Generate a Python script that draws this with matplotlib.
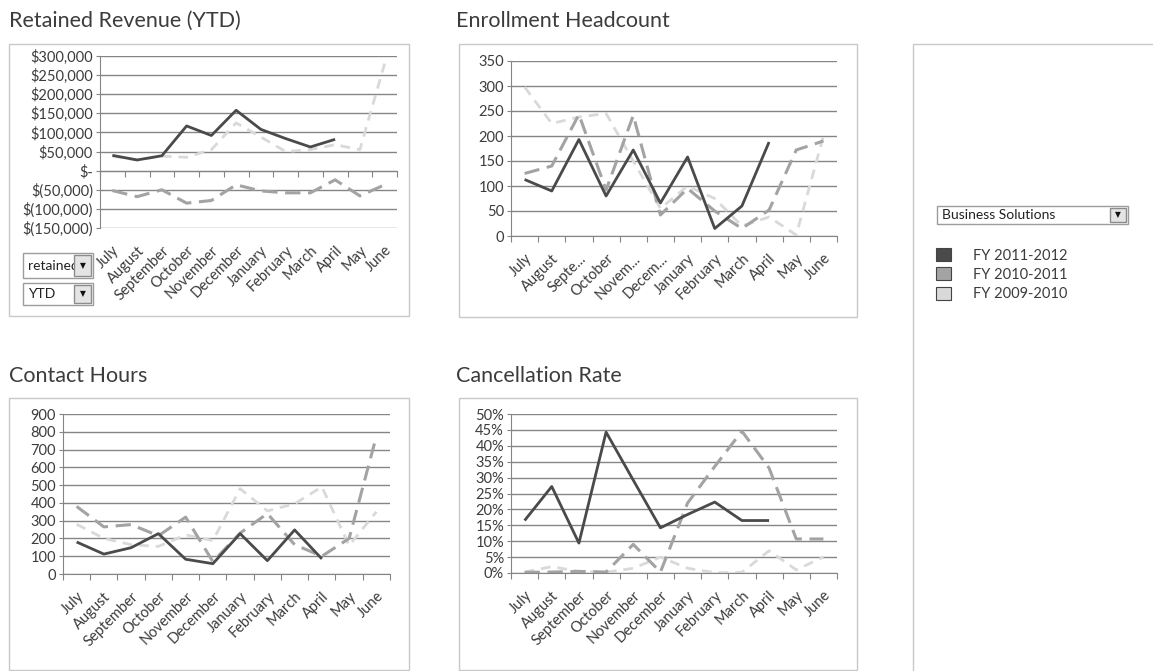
import numpy as np
import matplotlib
matplotlib.use("Agg")
import matplotlib.pyplot as plt
from matplotlib.patches import Rectangle, Patch
from matplotlib.ticker import FuncFormatter

W, H = 1153, 671
nan = np.nan

months = ['July', 'August', 'September', 'October', 'November', 'December',
          'January', 'February', 'March', 'April', 'May', 'June']
enroll_months = ['July', 'August', 'Septe...', 'October', 'Novem...', 'Decem...',
                 'January', 'February', 'March', 'April', 'May', 'June']
years = ['FY 2011-2012', 'FY 2010-2011', 'FY 2009-2010']

# retained revenue, dollars
revenue_1112 = [40000, 28000, 39000, 117000, 92000, 158000, 108000, 84000, 62000, 82000, nan, nan]
revenue_1011 = [-52000, -68000, -50000, -85000, -78000, -37000, -53000, -58000, -58000, -24000, -66000, -37000]
revenue_0910 = [38000, 28000, 38000, 35000, 55000, 125000, 88000, 50000, 55000, 68000, 55000, 280000]

# enrollment headcount
enroll_1112 = [113, 90, 193, 80, 172, 66, 158, 15, 60, 188, nan, nan]
enroll_1011 = [125, 140, 243, 92, 241, 42, 95, 50, 15, 52, 172, 190]
enroll_0910 = [298, 225, 238, 245, 150, 55, 100, 75, 20, 38, 2, 200]

# contact hours
hours_1112 = [180, 112, 148, 227, 83, 58, 227, 75, 248, 85, nan, nan]
hours_1011 = [380, 265, 278, 215, 320, 70, 230, 340, 165, 100, 200, 775]
hours_0910 = [280, 200, 165, 155, 220, 188, 480, 355, 395, 490, 160, 350]

# cancellation rate, percent
cancel_1112 = [16.5, 27.2, 9.4, 44.3, 29.2, 14.2, 18.4, 22.3, 16.5, 16.5, nan, nan]
cancel_1011 = [0.2, 0.3, 0.5, 0.3, 9.0, 0.3, 22.0, 33.5, 44.6, 33.0, 10.7, 10.7]
cancel_0910 = [0.3, 2.0, 0.5, 0.2, 1.5, 5.0, 1.5, 0.1, 0.2, 7.0, 1.0, 5.0]

plt.rcParams['font.family'] = ['Lato', 'DejaVu Sans']

TEXT = '#3c3c3c'
GRID = '#858585'
FRAME = '#c8c8c8'
colors = ['#4a4a4a', '#a3a3a3', '#d9d9d9']
styles = [dict(color=colors[0], lw=2.0, ls='-'),
          dict(color=colors[1], lw=2.2, ls=(0, (5, 2.5))),
          dict(color=colors[2], lw=2.0, ls=(0, (3.5, 2.5)))]

fig = plt.figure(figsize=(W / 100, H / 100), dpi=100)


def px_rect(x0, y0, x1, y1):
    return [x0 / W, 1 - y1 / H, (x1 - x0) / W, (y1 - y0) / H]


def frame(x0, y0, x1, y1, ec=FRAME, fc='none', z=0):
    l, b, w, h = px_rect(x0, y0, x1, y1)
    fig.add_artist(Rectangle((l, b), w, h, transform=fig.transFigure,
                             fc=fc, ec=ec, lw=1, zorder=z))


def dropdown(x0, y0, x1, y1, text, fs, bw):
    frame(x0, y0, x1, y1, ec='#9c9c9c', fc='white', z=2)
    fig.text((x0 + 5) / W, 1 - (y0 + y1) / 2 / H, text, fontsize=fs,
             color='#222222', va='center', zorder=3)
    frame(x1 - bw - 2, y0 + 2, x1 - 2, y1 - 2, ec='#8c8c8c', fc='#e4e4e4', z=4)
    fig.text((x1 - 2 - bw / 2) / W, 1 - (y0 + y1) / 2 / H, '▼', fontsize=5.5,
             family='DejaVu Sans', color='#111111', ha='center', va='center', zorder=5)


def money(v, pos):
    if v == 0:
        return '$-'
    if v < 0:
        return f'$({-v:,.0f})'
    return f'${v:,.0f}'


def line_chart(box, series, ymin, ymax, step, fmt, labels):
    ax = fig.add_axes(px_rect(*box))
    x = np.arange(len(labels))
    # oldest year first so the current year sits on top
    for vals, st in reversed(list(zip(series, styles))):
        ax.plot(x, vals, solid_capstyle='butt', dash_capstyle='butt', **st)
    ax.set_xlim(-0.5, len(labels) - 0.5)
    ax.set_ylim(ymin, ymax)
    ax.set_yticks(np.arange(ymin, ymax + step / 2, step))
    ax.yaxis.set_major_formatter(FuncFormatter(fmt))
    ax.grid(axis='y', color=GRID, lw=1.0)
    ax.set_axisbelow(True)
    for s in ('top', 'right'):
        ax.spines[s].set_visible(False)
    ax.spines['left'].set_color(GRID)
    ax.spines['bottom'].set_color(GRID)
    ax.spines['bottom'].set_position(('data', 0))
    ax.set_xticks(np.arange(len(labels) + 1) - 0.5)
    ax.tick_params(axis='x', length=4, color=GRID, labelbottom=False)
    ax.tick_params(axis='y', length=3, color=GRID, labelsize=10.5,
                   labelcolor=TEXT, pad=2)
    sec = ax.secondary_xaxis(0)
    sec.set_xticks(x, labels, rotation=45, ha='right', rotation_mode='anchor')
    sec.tick_params(length=0, pad=11, labelsize=10.5, labelcolor=TEXT)
    sec.spines['bottom'].set_visible(False)
    return ax


# chart frames and the legend panel
frame(9, 44, 409, 316)
frame(459, 44, 857, 317)
frame(9, 398, 409, 670)
frame(459, 398, 857, 670)
frame(913, 44, 1160, 680)

title_kw = dict(fontsize=15.5, color=TEXT, va='baseline')
fig.text(9 / W, 1 - 27 / H, 'Retained Revenue (YTD)', **title_kw)
fig.text(456 / W, 1 - 27 / H, 'Enrollment Headcount', **title_kw)
fig.text(9 / W, 1 - 382 / H, 'Contact Hours', **title_kw)
fig.text(456 / W, 1 - 382 / H, 'Cancellation Rate', **title_kw)

line_chart((100, 56, 397, 228), [revenue_1112, revenue_1011, revenue_0910],
           -150000, 300000, 50000, money, months)
line_chart((511, 61, 837, 236), [enroll_1112, enroll_1011, enroll_0910],
           0, 350, 50, lambda v, p: f'{v:.0f}', enroll_months)
line_chart((63, 414, 390, 574), [hours_1112, hours_1011, hours_0910],
           0, 900, 100, lambda v, p: f'{v:.0f}', months)
line_chart((511, 414, 837, 573), [cancel_1112, cancel_1011, cancel_0910],
           0, 50, 5, lambda v, p: f'{v:.0f}%', months)

dropdown(23, 253, 93, 278, 'retained', 10, 17)
dropdown(23, 283, 93, 305, 'YTD', 10, 17)
dropdown(937, 206, 1128, 224, 'Business Solutions', 10, 16)

handles = [Patch(fc=c, ec='#444444', lw=0.8) for c in colors]
fig.legend(handles, years, loc='upper left', bbox_to_anchor=(923 / W, 1 - 235 / H),
           frameon=False, handlelength=1.0, handleheight=1.0, handletextpad=1.5,
           labelspacing=0.32, fontsize=10.5, labelcolor=TEXT)

fig.savefig('out.png', dpi=100)
